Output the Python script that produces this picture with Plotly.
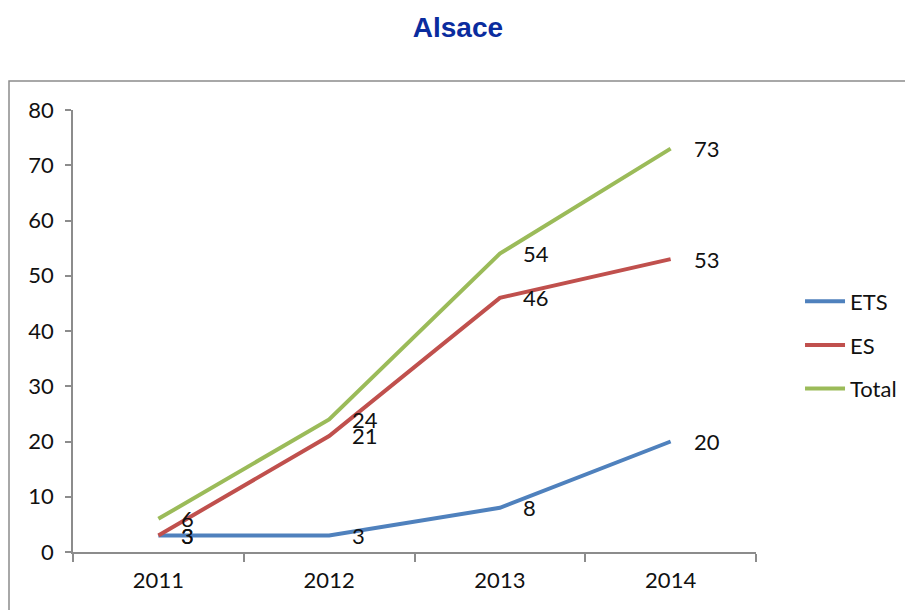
import plotly.graph_objects as go

years = ["2011", "2012", "2013", "2014"]
ets = [3, 3, 8, 20]
es = [3, 21, 46, 53]
total = [6, 24, 54, 73]
series_names = ["ETS", "ES", "Total"]
colors = ["#4F81BD", "#C0504D", "#9BBB59"]
y_ticks = [0, 10, 20, 30, 40, 50, 60, 70, 80]

FONT = "Lato, Calibri, Carlito, sans-serif"

fig = go.Figure()
for i, (name, vals) in enumerate(zip(series_names, [ets, es, total])):
    fig.add_trace(go.Scatter(
        x=years, y=vals, mode="lines", name=name,
        line=dict(color=colors[i], width=4),
        legendgroup=name,
    ))

annotations = []
for vals in [ets, es, total]:
    for idx, v in enumerate(vals):
        # category index on the category x axis
        annotations.append(dict(
            x=idx, y=v, xref="x", yref="y", text=str(v), showarrow=False,
            xanchor="left", yanchor="middle", xshift=21,
            font=dict(family=FONT, size=22, color="#111111"),
        ))

fig.update_layout(
    width=905, height=610,
    margin=dict(l=73, r=149, t=110, b=58, autoexpand=False),
    paper_bgcolor="white", plot_bgcolor="white",
    title=dict(text="<b>Alsace</b>", x=0.506, xanchor="center", y=0.955, yanchor="middle",
               font=dict(family="Arial, Liberation Sans, sans-serif", size=28, color="#0A2C9E")),
    annotations=annotations,
    showlegend=True,
    legend=dict(x=0.884, y=0.4344, xref="container", yref="container",
                xanchor="left", yanchor="middle",
                font=dict(family=FONT, size=22, color="#111111"),
                traceorder="grouped", tracegroupgap=12, itemwidth=40,
                bgcolor="rgba(0,0,0,0)"),
    xaxis=dict(type="category", showgrid=False, showline=True, linecolor="#8C8C8C", linewidth=1.5,
               ticks="outside", tickson="boundaries", ticklen=8, tickcolor="#8C8C8C", tickwidth=1.5,
               tickfont=dict(family=FONT, size=22, color="#111111"), zeroline=False,
               range=[-0.5, 3.5], ticklabelstandoff=8, automargin=False),
    yaxis=dict(range=[0, 80], tickvals=y_ticks, showgrid=False, showline=True, linecolor="#8C8C8C",
               linewidth=1.5, ticks="outside", ticklen=6, tickcolor="#8C8C8C", tickwidth=1.5,
               tickfont=dict(family=FONT, size=22, color="#111111"), zeroline=False,
               ticklabelstandoff=7, automargin=False),
    shapes=[dict(type="rect", xref="paper", yref="paper", x0=(9 - 73) / 683, x1=1.6,
                 y0=-0.5, y1=(552 - 81) / 442, line=dict(color="#8C8C8C", width=1.5),
                 fillcolor="rgba(0,0,0,0)", layer="below")],
)

fig.write_html("out.html")
